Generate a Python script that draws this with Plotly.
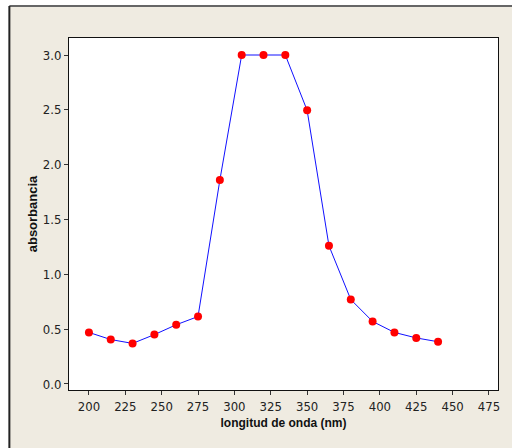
import plotly.graph_objects as go

longitud = [200, 215, 230, 245, 260, 275, 290, 305, 320, 335, 350, 365, 380, 395, 410, 425, 440]
absorbancia = [0.47, 0.405, 0.37, 0.45, 0.54, 0.615, 1.86, 3.0, 3.0, 3.0, 2.495, 1.26, 0.77, 0.57, 0.47, 0.42, 0.385]

x_ticks = [200, 225, 250, 275, 300, 325, 350, 375, 400, 425, 450, 475]
y_ticks = [0.0, 0.5, 1.0, 1.5, 2.0, 2.5, 3.0]

beige = "#EFEBE1"
tick_font = dict(family="Liberation Sans Narrow, DejaVu Sans Condensed, sans-serif", size=13, color="#222")
title_font = dict(family="Liberation Sans, Arial, sans-serif", size=12, color="#111")

fig = go.Figure()
fig.add_trace(go.Scatter(
    x=longitud, y=absorbancia, mode="lines+markers",
    line=dict(color="#1010FF", width=1),
    marker=dict(color="#FF0000", size=8),
    showlegend=False,
))

# marco beige con bordes oscuros arriba e izquierda
fig.add_shape(type="rect", xref="paper", yref="paper", x0=-0.139, x1=1.1, y0=-0.3, y1=1.091,
              fillcolor=beige, line_width=0, layer="below")
fig.add_shape(type="line", xref="paper", yref="paper", x0=-0.139, x1=1.1, y0=1.091, y1=1.091,
              line=dict(color="#666", width=2), layer="below")
fig.add_shape(type="line", xref="paper", yref="paper", x0=-0.139, x1=-0.139, y0=-0.3, y1=1.091,
              line=dict(color="#222", width=2), layer="below")
fig.add_shape(type="rect", xref="paper", yref="paper", x0=0, x1=1, y0=0, y1=1,
              fillcolor="white", line_width=0, layer="below")

fig.update_xaxes(
    range=[186.3, 481.2], tickvals=x_ticks, ticks="outside", ticklen=4, tickcolor="#333",
    showline=True, linecolor="#111", linewidth=1, mirror=True, showgrid=False, zeroline=False,
    tickfont=tick_font,
    title=dict(text="<b>longitud de onda (nm)</b>", font=title_font, standoff=6),
)
fig.update_yaxes(
    range=[-0.055, 3.155], tickvals=y_ticks, tickformat=".1f", ticks="outside", ticklen=4, tickcolor="#333",
    showline=True, linecolor="#111", linewidth=1, mirror=True, showgrid=False, zeroline=False,
    tickfont=tick_font,
    title=dict(text="<b>absorbancia</b>", font=dict(title_font, size=13), standoff=2),
)
fig.update_layout(
    width=512, height=448,
    margin=dict(l=69, r=12, t=38, b=58),
    paper_bgcolor="white", plot_bgcolor="rgba(0,0,0,0)",
)
fig.write_html("out.html", config={"displayModeBar": False},
               post_script="document.body.style.margin='0';document.body.style.overflow='hidden';"
                           "document.documentElement.style.overflow='hidden';")
